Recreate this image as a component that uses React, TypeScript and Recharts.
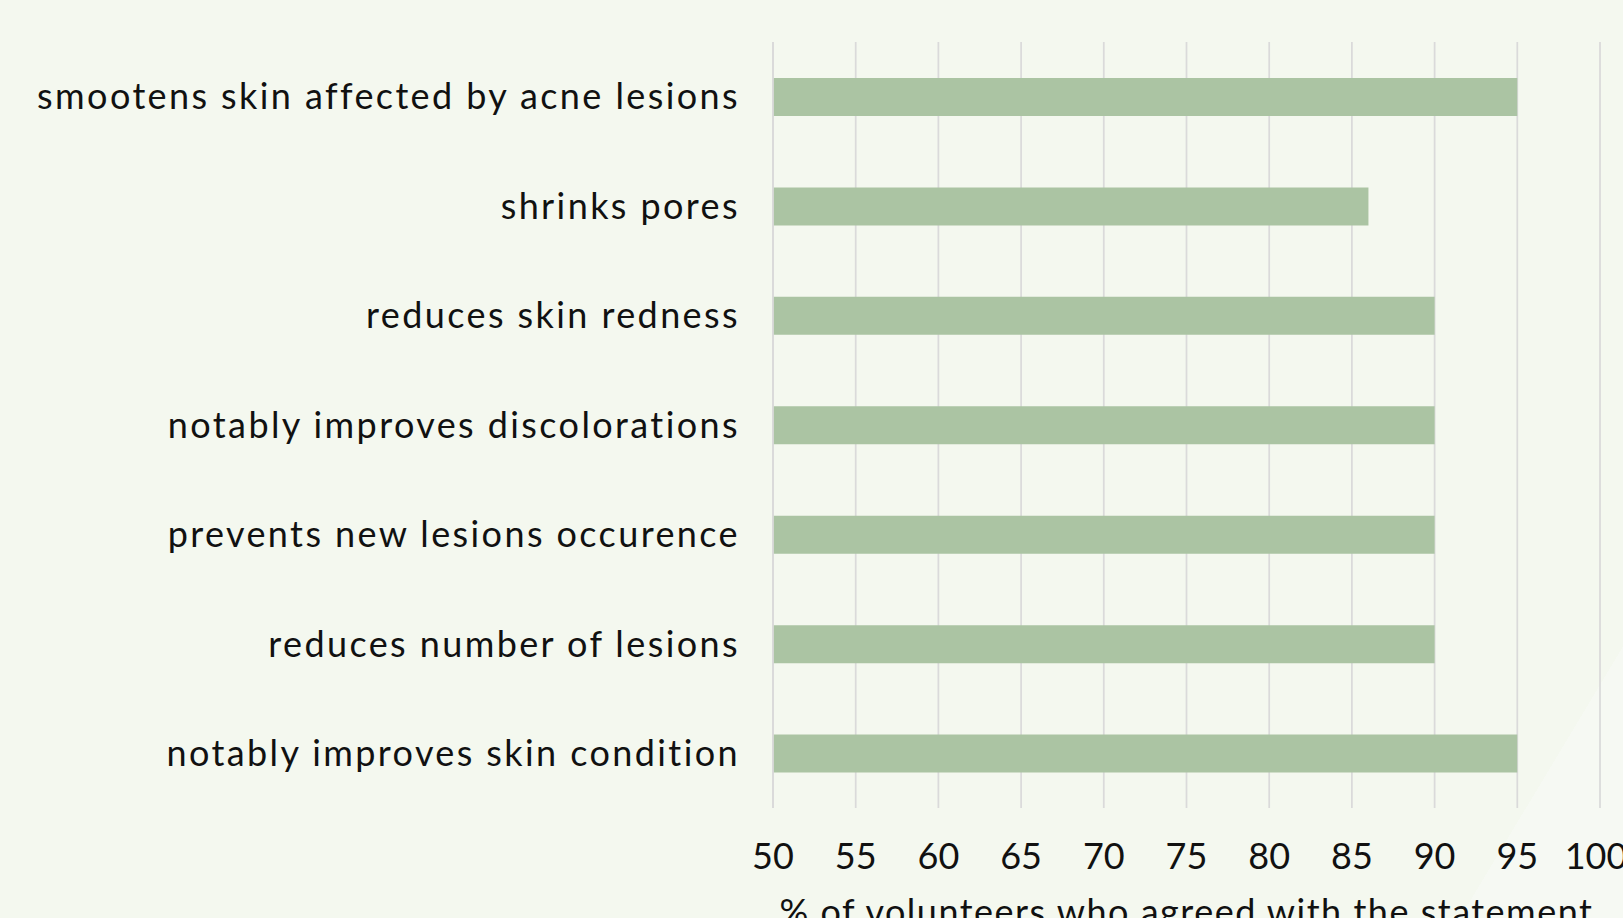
import { Bar, BarChart, CartesianGrid, XAxis, YAxis } from 'recharts'

const statements = [
  'smootens skin affected by acne lesions',
  'shrinks pores',
  'reduces skin redness',
  'notably improves discolorations',
  'prevents new lesions occurence',
  'reduces number of lesions',
  'notably improves skin condition',
]

const agreedPct = [95, 86, 90, 90, 90, 90, 95]

const pctTicks = [50, 55, 60, 65, 70, 75, 80, 85, 90, 95, 100]

const axisTitle = '% of volunteers who agreed with the statement'

const rows = statements.map((statement, i) => ({ statement, value: agreedPct[i] }))

const font = "'Century Gothic', 'URW Gothic', Lato, sans-serif"
const gridColor = '#dadada'

export default function App() {
  return (
    <div
      style={{
        position: 'fixed',
        inset: 0,
        overflow: 'hidden',
        background: 'linear-gradient(121deg, #f4f8ef 92.5%, #f6f9f3 92.5%)',
        fontFamily: font,
      }}
    >
      <BarChart
        width={1623}
        height={918}
        data={rows}
        layout="vertical"
        margin={{ top: 42, right: 23, bottom: 0, left: 0 }}
      >
        <CartesianGrid horizontal={false} stroke={gridColor} strokeWidth={1.75} />
        <XAxis
          type="number"
          domain={[50, 100]}
          ticks={pctTicks}
          allowDataOverflow
          height={110}
          axisLine={false}
          tickLine={false}
          tickSize={0}
          tickMargin={35}
          tick={{ fill: '#111', fontSize: 36, fontFamily: font }}
          label={{
            value: axisTitle,
            position: 'insideBottom',
            offset: -7,
            fill: '#111',
            fontSize: 36,
            fontFamily: font,
            letterSpacing: 1.5,
          }}
        />
        <YAxis
          type="category"
          dataKey="statement"
          width={773}
          axisLine={{ stroke: gridColor, strokeWidth: 1.75 }}
          tickLine={false}
          tickSize={0}
          tickMargin={33}
          tick={{ fill: '#111', fontSize: 36, fontFamily: font, letterSpacing: 2.4 }}
          interval={0}
        />
        <Bar dataKey="value" fill="#abc4a3" barSize={38} isAnimationActive={false} />
      </BarChart>
    </div>
  )
}
